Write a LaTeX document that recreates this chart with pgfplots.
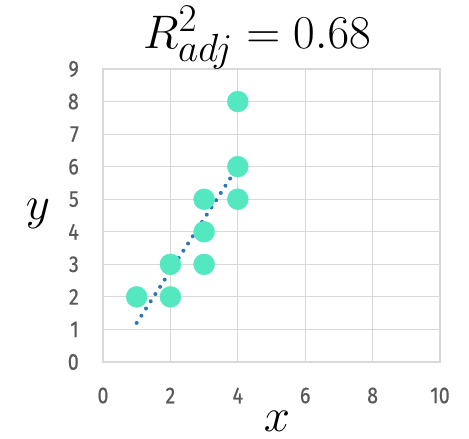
\documentclass[border=0pt]{standalone}
\usepackage{fontspec}
\usepackage{pgfplots}
\pgfplotsset{compat=1.18}
\newfontfamily\tickfont[FakeStretch=0.86, FakeBold=0.6]{Fira Sans}
\definecolor{gridgray}{HTML}{D9D9D9}
\definecolor{ticktext}{HTML}{595959}
\definecolor{pointcolor}{RGB}{84,232,192}
\definecolor{trendblue}{HTML}{2E75B6}

\begin{document}
\begin{tikzpicture}
\path[use as bounding box] (-103bp,-77bp) rectangle (366bp,362bp);
\begin{axis}[
  at={(0,0)}, anchor=south west,
  scale only axis, width=337bp, height=293bp,
  xmin=0, xmax=10, ymin=0, ymax=9,
  xtick={0,2,...,10}, ytick={0,1,...,9},
  grid=major, major grid style={gridgray, line width=1.2bp},
  axis line style={gridgray, line width=1.2bp},
  major tick length=0pt,
  tick label style={font=\tickfont\fontsize{23}{25}\selectfont, text=ticktext, inner sep=0pt},
  /pgf/number format/assume math mode=true,
  xticklabel style={anchor=center, yshift=-33.5bp},
  yticklabel style={anchor=east, xshift=-24bp},
  clip=false,
]
% observed points
\addplot[only marks, mark=*, mark size=10.5bp,
  color=pointcolor, mark options={draw=pointcolor, fill=pointcolor}]
  coordinates {(1,2) (2,2) (2,3) (3,3) (3,4) (3,5) (4,5) (4,6) (4,8)};
% least-squares line y = 1.6x - 0.4
\addplot[trendblue, line width=4bp, line cap=round,
  dash pattern=on 0bp off 8.6bp]
  coordinates {(1,1.2) (4,6.0)};
\end{axis}
\node[inner sep=0pt] at (154bp,324bp) {\scalebox{1.9}{\Huge $R^2_{adj} = 0.68$}};
\node[inner sep=0pt] at (174bp,-59bp) {\scalebox{1.9}{\Huge $x$}};
\node[inner sep=0pt] at (-65bp,148bp) {\scalebox{1.9}{\Huge $y$}};
\end{tikzpicture}
\end{document}
